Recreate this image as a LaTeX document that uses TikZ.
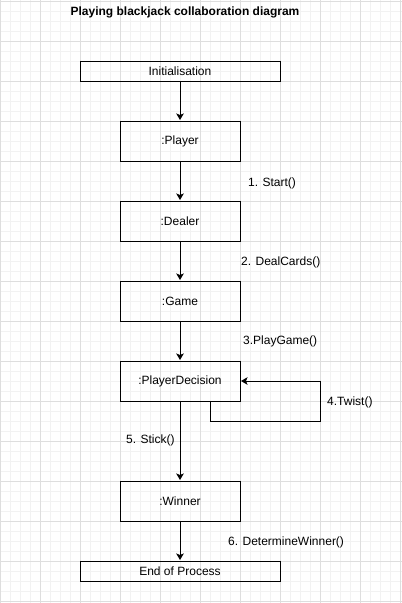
\documentclass[tikz,border=0pt]{standalone}
\usepackage{fontspec}
\usetikzlibrary{arrows.meta}
\setmainfont{Liberation Sans}
\begin{document}
\begin{tikzpicture}[>={Stealth[length=6.5pt,width=7.5pt,inset=1.5pt]}, x=1pt, y=-1pt,
    every node/.style={font=\fontsize{12}{14}\selectfont},
    obj/.style={draw, line width=1pt, minimum width=120pt, minimum height=40pt, inner sep=0pt},
    endbox/.style={draw, line width=1pt, minimum width=200pt, minimum height=20pt, inner sep=0pt},
    msg/.style={anchor=west, inner sep=0pt},
    flow/.style={->, line width=1pt, shorten >=0.5pt}]
\useasboundingbox (0,0) rectangle (402,603);
\fill[white] (0,0) rectangle (402,603);
% grid
\foreach \i in {0,10,...,400} \draw[black!5, line width=0.6pt] (\i,0)--(\i,603);
\foreach \j in {1,11,...,601} \draw[black!5, line width=0.6pt] (0,\j)--(402,\j);
\foreach \i in {0,40,...,400} \draw[black!13, line width=0.8pt] (\i,0)--(\i,603);
\foreach \j in {1,41,...,601} \draw[black!13, line width=0.8pt] (0,\j)--(402,\j);

\node[font=\fontsize{12}{14}\selectfont\bfseries] (title) at (185,12) {Playing blackjack collaboration diagram};

\node[endbox] (init) at (180,71) {Initialisation};
\node[obj] (player) at (180,141) {:Player};
\node[obj] (dealer) at (180,221) {:Dealer};
\node[obj] (game) at (180,301) {:Game};
\node[obj] (pd) at (180,381) {:PlayerDecision};
\node[obj] (winner) at (180,501) {:Winner};
\node[endbox] (end) at (180,571) {End of Process};
\coordinate (loop) at (320,421);

\draw[flow] (init)--(player);
\draw[flow] (player)--(dealer);
\draw[flow] (dealer)--(game);
\draw[flow] (game)--(pd);
\draw[flow] (pd)--(winner);
\draw[flow] (winner)--(end);
\draw[flow] ([xshift=30pt]pd.south) |- (loop) |- (pd.east);

\node[msg] (m1) at (248,183) {1. Start()};
\node[msg] (m2) at (241,262) {2. DealCards()};
\node[msg] (m3) at (243,341) {3.PlayGame()};
\node[msg] (m4) at (327,402) {4.Twist()};
\node[msg] (m5) at (126,440) {5. Stick()};
\node[msg] (m6) at (228,542) {6. DetermineWinner()};
\end{tikzpicture}
\end{document}
